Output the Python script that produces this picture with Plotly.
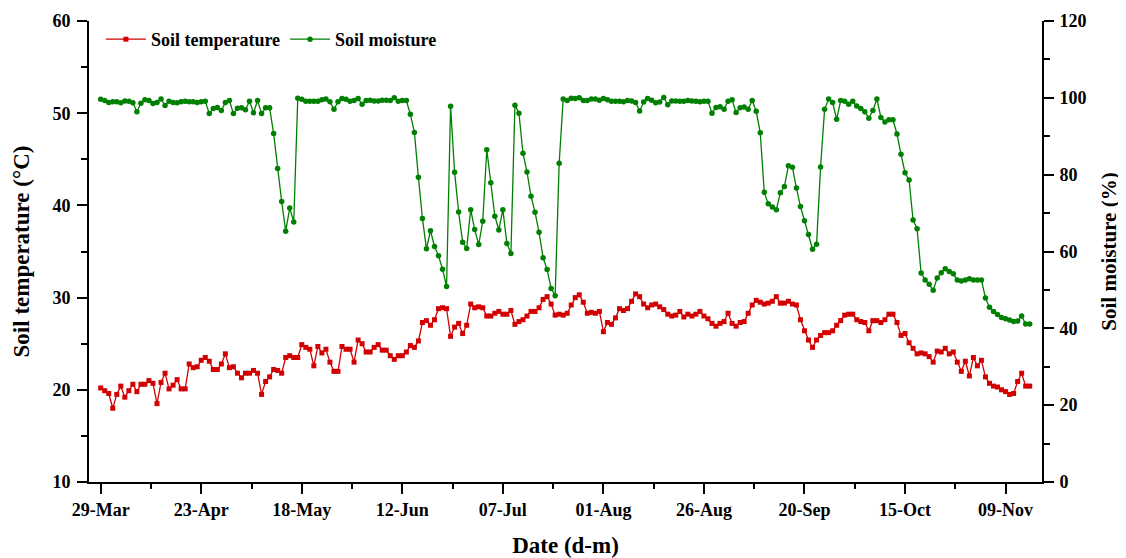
import pandas as pd
import plotly.graph_objects as go

START_DATE = "2021-03-29"

SOIL_TEMPERATURE = [
    20.2, 19.9, 19.6, 18.0, 19.5, 20.4, 19.2, 19.9, 20.6, 19.8,
    20.6, 20.6, 21.0, 20.7, 18.5, 20.8, 21.8, 20.1, 20.5, 21.1,
    20.1, 20.1, 22.8, 22.4, 22.5, 23.2, 23.5, 23.1, 22.2, 22.2,
    22.8, 23.9, 22.4, 22.5, 21.8, 21.3, 21.8, 21.8, 22.1, 21.8,
    19.5, 20.9, 21.4, 22.2, 22.1, 21.8, 23.5, 23.7, 23.5, 23.5,
    24.9, 24.6, 24.4, 22.6, 24.7, 24.0, 24.4, 23.0, 22.0, 22.0,
    24.7, 24.4, 24.4, 23.0, 25.4, 25.0, 24.1, 24.1, 24.6, 24.9,
    24.3, 24.3, 23.7, 23.3, 23.7, 23.7, 24.1, 24.8, 24.6, 25.3,
    27.3, 27.5, 27.0, 27.6, 28.8, 28.9, 28.8, 25.8, 26.8, 27.2,
    26.1, 27.0, 29.3, 28.9, 29.0, 28.9, 28.0, 28.0, 28.3, 28.5,
    28.2, 28.2, 28.6, 27.1, 27.4, 27.6, 28.0, 28.5, 28.5, 28.9,
    29.8, 30.1, 29.3, 28.1, 28.2, 28.1, 28.3, 29.2, 30.0, 30.3,
    29.5, 28.3, 28.4, 28.3, 28.5, 26.3, 27.3, 27.1, 27.8, 28.8,
    28.6, 28.8, 29.6, 30.4, 30.1, 29.3, 28.9, 29.2, 29.3, 29.0,
    28.7, 28.2, 28.0, 28.1, 28.5, 27.9, 28.2, 28.0, 28.2, 28.5,
    28.0, 27.7, 27.2, 26.9, 27.2, 27.4, 28.3, 27.2, 26.9, 27.3,
    27.4, 28.3, 29.2, 29.7, 29.5, 29.3, 29.4, 29.6, 30.1, 29.4,
    29.4, 29.6, 29.3, 29.2, 27.6, 26.4, 25.4, 24.6, 25.4, 25.9,
    26.2, 26.2, 26.4, 27.0, 27.5, 28.1, 28.2, 28.2, 27.6, 27.4,
    27.3, 26.4, 27.5, 27.5, 27.3, 27.6, 28.2, 28.2, 27.3, 25.9,
    26.1, 25.1, 24.5, 23.9, 24.0, 23.9, 23.6, 23.0, 24.2, 24.1,
    24.5, 23.9, 24.1, 23.0, 22.0, 23.1, 21.5, 23.5, 22.6, 23.2,
    21.4, 20.7, 20.4, 20.3, 20.0, 19.8, 19.5, 19.6, 20.9, 21.8,
    20.4, 20.4,
]

SOIL_MOISTURE = [
    99.6, 99.3, 98.8, 99.0, 99.0, 98.7, 99.2, 99.1, 98.7, 96.4,
    98.6, 99.5, 99.3, 98.5, 98.8, 99.7, 98.0, 99.1, 98.8, 98.7,
    99.0, 99.1, 99.0, 99.0, 98.8, 99.0, 99.1, 95.9, 97.2, 97.5,
    96.7, 98.8, 99.3, 95.9, 97.3, 97.4, 96.9, 99.1, 96.1, 99.3,
    95.9, 97.4, 97.4, 90.7, 81.6, 73.0, 65.3, 71.3, 67.7, 99.9,
    99.6, 99.1, 99.1, 99.1, 99.1, 99.5, 99.7, 99.0, 97.0, 99.0,
    99.8, 99.6, 99.1, 99.3, 99.8, 98.3, 99.3, 99.4, 99.2, 99.2,
    99.4, 99.4, 99.3, 100.0, 99.1, 99.3, 99.3, 95.7, 91.0, 79.3,
    68.6, 60.7, 65.4, 61.3, 58.9, 55.4, 50.9, 97.8, 80.6, 70.3,
    62.4, 60.8, 70.9, 65.7, 61.8, 67.9, 86.5, 77.9, 69.2, 65.6,
    70.9, 62.1, 59.5, 98.1, 96.0, 85.6, 80.7, 74.4, 70.2, 65.0,
    58.4, 55.3, 50.4, 48.5, 83.0, 99.7, 99.3, 99.9, 99.8, 100.0,
    99.3, 99.3, 99.7, 99.7, 99.4, 99.8, 99.5, 99.1, 99.1, 99.1,
    99.0, 99.3, 99.2, 98.8, 96.6, 98.9, 99.8, 99.4, 98.7, 98.9,
    100.1, 98.2, 99.2, 99.2, 99.1, 99.1, 99.3, 99.2, 99.1, 99.0,
    99.1, 99.1, 96.0, 97.5, 97.7, 97.0, 99.1, 99.5, 96.2, 97.4,
    97.6, 97.0, 99.3, 96.5, 90.9, 75.4, 72.4, 71.6, 70.9, 75.3,
    76.9, 82.3, 81.9, 76.5, 71.7, 68.0, 64.4, 60.6, 61.9, 82.0,
    97.0, 99.7, 98.8, 94.4, 99.3, 99.1, 98.3, 99.1, 97.9, 97.2,
    96.4, 94.7, 96.7, 99.7, 94.9, 93.7, 94.3, 94.3, 90.6, 85.3,
    80.5, 78.6, 68.2, 65.9, 54.4, 52.6, 51.5, 49.9, 53.1, 54.5,
    55.5, 54.8, 54.2, 52.6, 52.3, 52.6, 52.9, 52.6, 52.6, 52.6,
    47.9, 45.5, 44.4, 43.6, 42.8, 42.5, 42.2, 41.8, 41.9, 43.2,
    41.1, 41.1,
]

TICK_DATES = ["2021-03-29", "2021-04-23", "2021-05-18", "2021-06-12", "2021-07-07",
              "2021-08-01", "2021-08-26", "2021-09-20", "2021-10-15", "2021-11-09"]
TICK_LABELS = ["29-Mar", "23-Apr", "18-May", "12-Jun", "07-Jul",
               "01-Aug", "26-Aug", "20-Sep", "15-Oct", "09-Nov"]

dates = pd.date_range(START_DATE, periods=len(SOIL_TEMPERATURE), freq="D")
tick_ts = pd.to_datetime(TICK_DATES)
minor_ts = [t + pd.Timedelta(hours=300) for t in tick_ts[:-1]]
x0 = pd.Timestamp(START_DATE) - pd.Timedelta(days=2.91)
x1 = pd.Timestamp(START_DATE) + pd.Timedelta(days=234.06)

FONT = "Liberation Serif"
RED = "#D20000"
GREEN = "#008000"

fig = go.Figure()
fig.add_trace(go.Scatter(
    x=dates, y=SOIL_TEMPERATURE, name="Soil temperature", mode="lines+markers",
    line=dict(color=RED, width=1.3),
    marker=dict(symbol="square", size=5, color=RED),
    yaxis="y",
))
fig.add_trace(go.Scatter(
    x=dates, y=SOIL_MOISTURE, name="Soil moisture", mode="lines+markers",
    line=dict(color=GREEN, width=1.3),
    marker=dict(symbol="circle", size=5.5, color=GREEN),
    yaxis="y2",
))

tickfont = dict(family=FONT, size=18, color="black", weight="bold")

# page body has an 8px margin: figure is 1118x550 placed at (8,8)
fig.update_layout(
    width=1118, height=550,
    margin=dict(l=81, r=84, t=13, b=76),
    paper_bgcolor="white", plot_bgcolor="white",
    font=dict(family=FONT, color="black"),
    showlegend=True,
    legend=dict(
        orientation="h", x=0.0125, y=1.0, xanchor="left", yanchor="top",
        font=dict(family=FONT, size=18, color="black", weight="bold"),
        bgcolor="rgba(0,0,0,0)", itemwidth=40, tracegroupgap=0,
    ),
    xaxis=dict(
        type="date", range=[x0, x1], automargin=False,
        tickmode="array", tickvals=list(tick_ts), ticktext=TICK_LABELS,
        ticks="outside", ticklen=10, tickwidth=2, tickcolor="black",
        showline=True, linewidth=2, linecolor="black",
        showgrid=False, zeroline=False, tickfont=tickfont,
        minor=dict(tickmode="array", tickvals=minor_ts, ticks="outside",
                   ticklen=5, tickwidth=2, tickcolor="black", showgrid=False),
        title=dict(text="Date (d-m)", standoff=18,
                   font=dict(family=FONT, size=23, color="black", weight="bold")),
    ),
    yaxis=dict(
        range=[10, 60], tickmode="linear", tick0=10, dtick=10, automargin=False,
        ticks="outside", ticklen=10, tickwidth=2, tickcolor="black",
        ticklabelstandoff=3,
        showline=True, linewidth=2, linecolor="black",
        showgrid=False, zeroline=False, tickfont=tickfont,
        minor=dict(dtick=5, ticks="outside", ticklen=6, tickwidth=2,
                   tickcolor="black", showgrid=False),
        title=dict(text="Soil temperature (°C)", standoff=16,
                   font=dict(family=FONT, size=23, color="black", weight="bold")),
    ),
    yaxis2=dict(
        range=[0, 120], tickmode="linear", tick0=0, dtick=20, automargin=False,
        overlaying="y", side="right",
        ticks="outside", ticklen=10, tickwidth=2, tickcolor="black",
        ticklabelstandoff=2,
        showline=True, linewidth=2, linecolor="black",
        showgrid=False, zeroline=False, tickfont=tickfont,
        minor=dict(dtick=10, ticks="outside", ticklen=6, tickwidth=2,
                   tickcolor="black", showgrid=False),
        title=dict(text="Soil moisture (%)", standoff=16,
                   font=dict(family=FONT, size=21, color="black", weight="bold")),
    ),
)

fig.write_html("out.html")
